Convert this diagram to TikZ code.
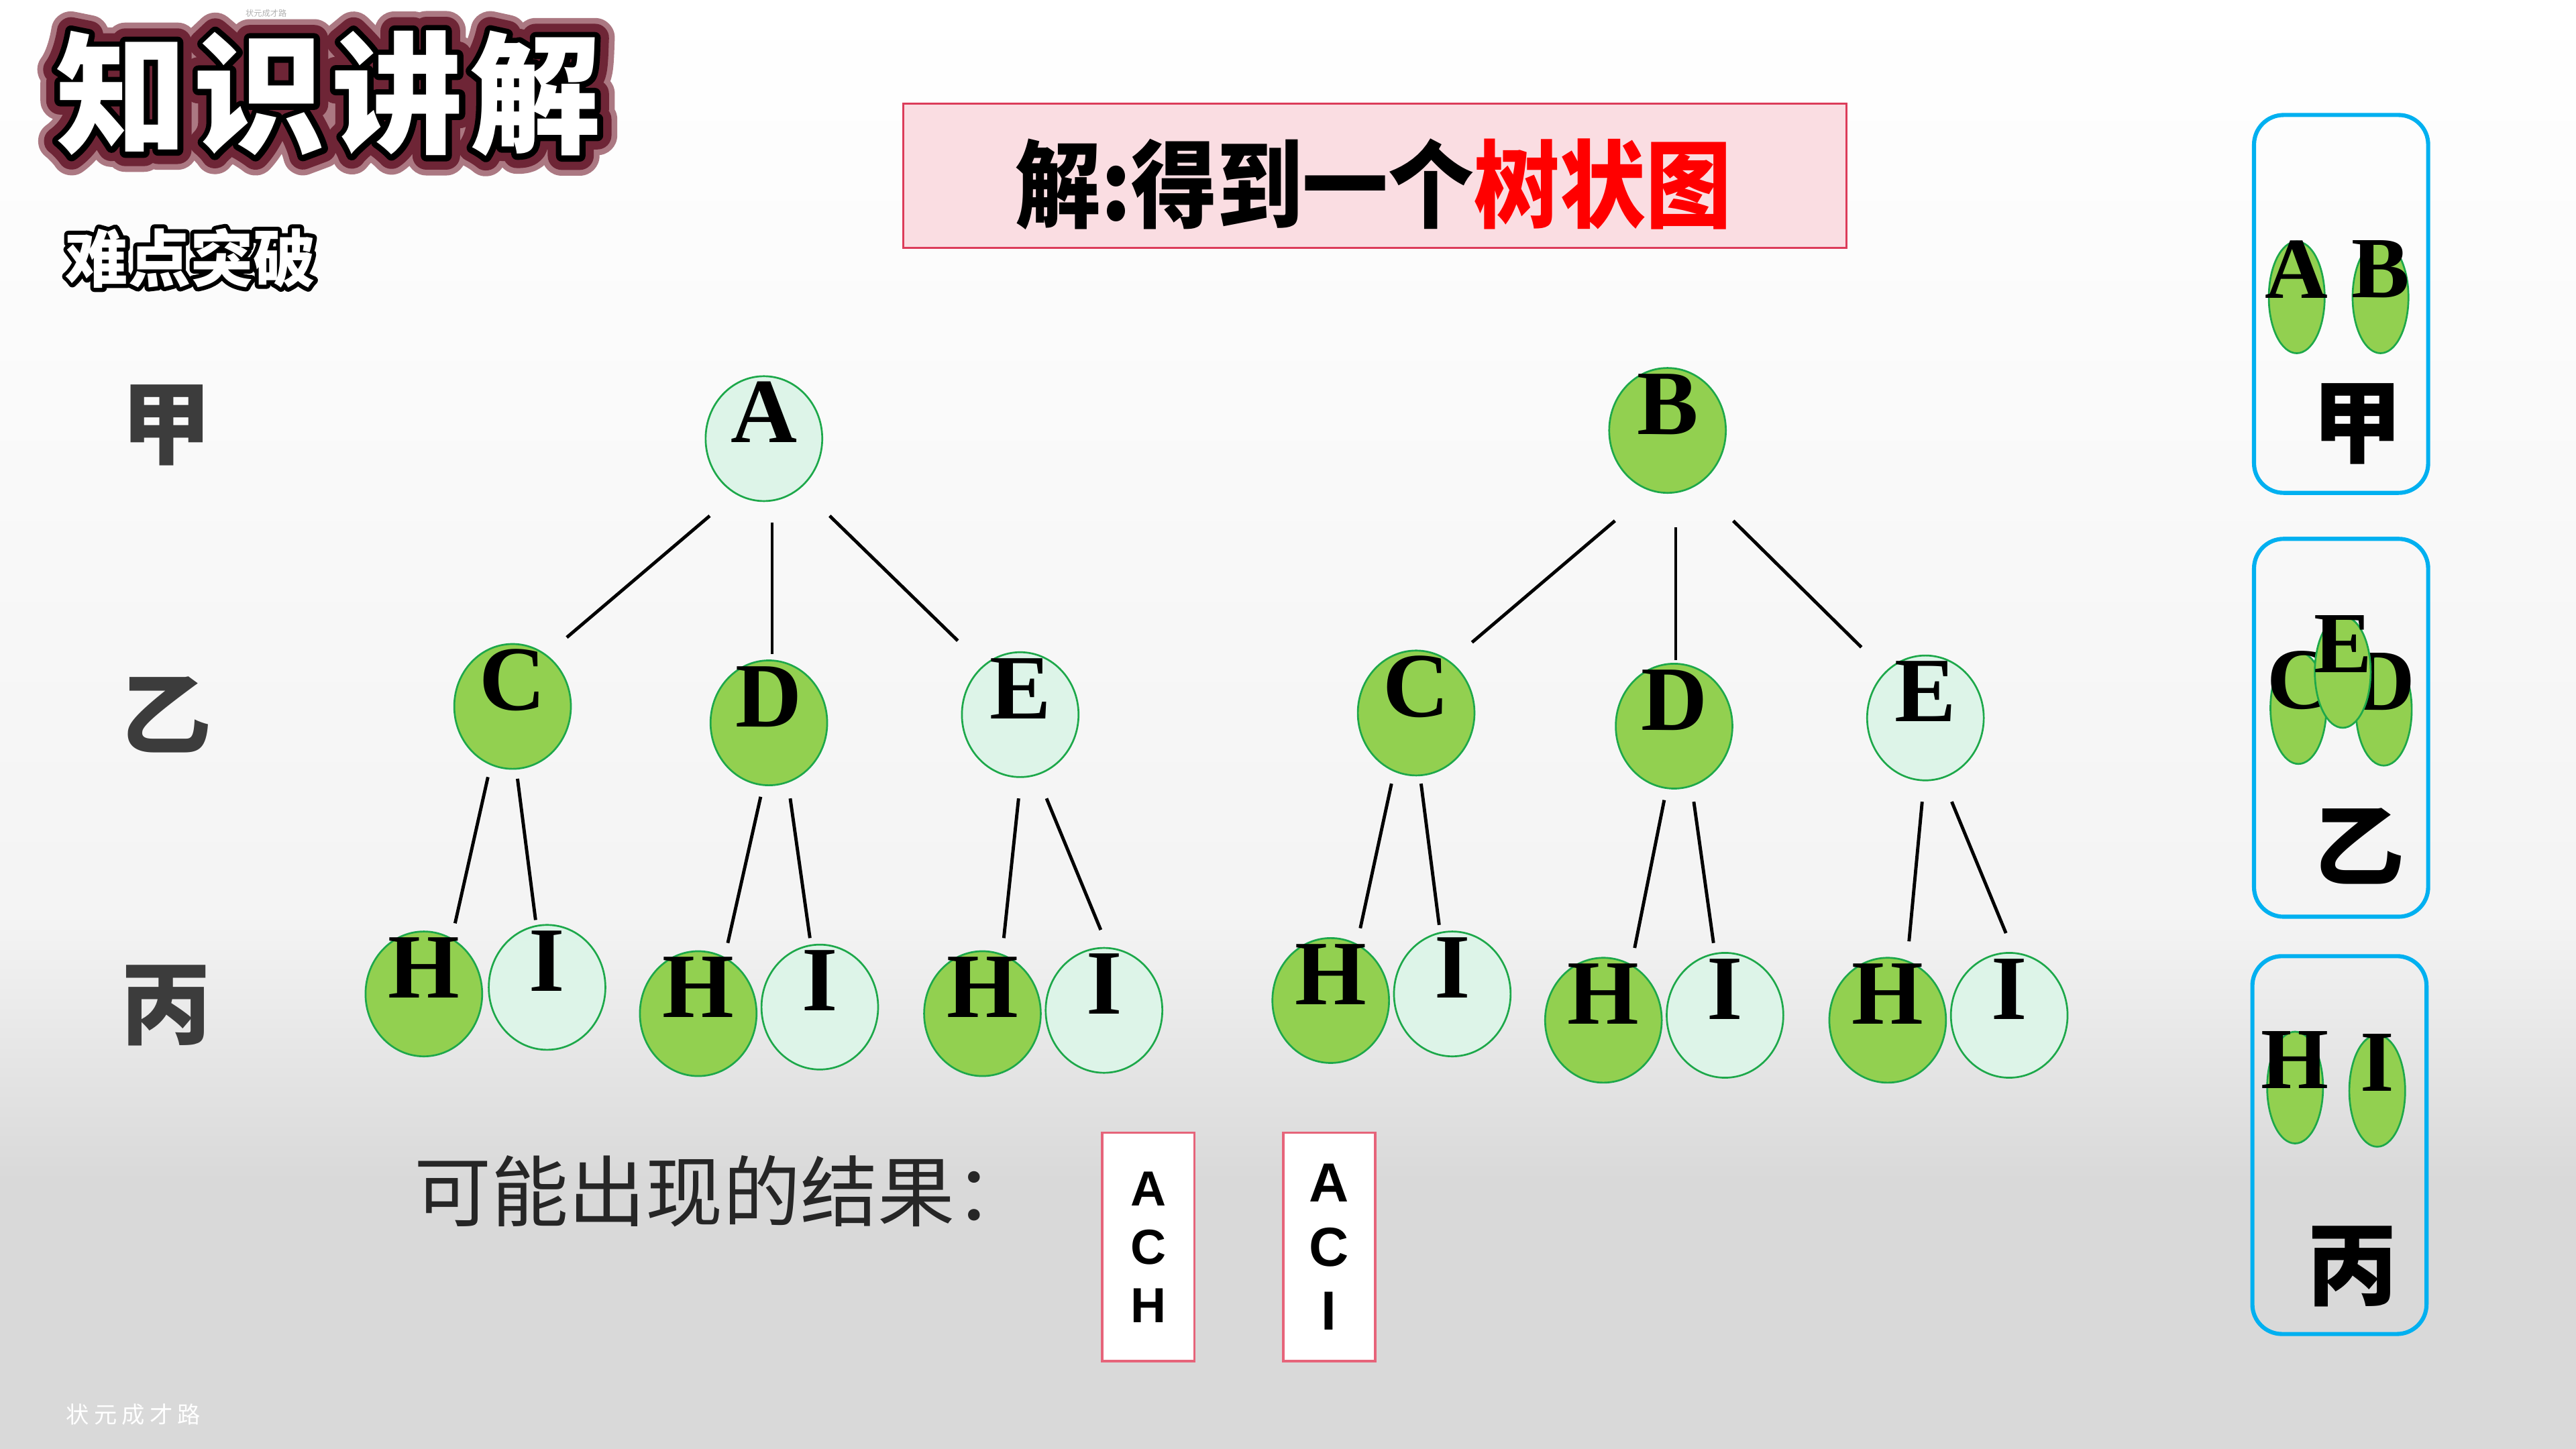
\documentclass[tikz,border=0pt]{standalone}
\usepackage{fontspec}
\setmainfont{Liberation Serif}
\newfontfamily\cjk{Noto Sans CJK SC}
\newfontfamily\arialf{Liberation Sans}
\usetikzlibrary{shapes.geometric,calc}
\definecolor{lgreen}{HTML}{92D050}
\definecolor{mint}{HTML}{DDF4E8}
\definecolor{egreen}{HTML}{1DA84A}
\definecolor{panelblue}{HTML}{00B0F0}
\definecolor{boxpink}{HTML}{FADDE2}
\definecolor{boxred}{HTML}{DC3C5A}
\definecolor{resred}{HTML}{E6647A}
\definecolor{labgray}{HTML}{3C3C3C}
\definecolor{pured}{HTML}{FF0000}
% text drawn with a stroked outline: #1 stroke colour (r g b), #2 stroke width, #3 text
\newcommand\outl[3]{\special{pdf:code q 1 j 1 J #1 RG #2 w 2 Tr}#3\special{pdf:code Q}}
\newcommand\ttltext{知\kern4pt识\kern4pt讲\kern4pt解}
\newcommand\subtext{难点突破}
\newcommand\bub[5]{\node[#1] (#2) at (#3,#4) {}; \node[ltr] (#2t) at ($(#2)+(0,-16)$) {#5};}
\newcommand\sbub[4]{\node[sell] (#1) at (#2,#3) {}; \node[sltr] (#1t) at ($(#1)+(0,-17)$) {#4};}
\begin{document}
\begin{tikzpicture}[x=1pt,y=-1pt,
  ell/.style={ellipse, draw=egreen, line width=1.1pt, inner sep=0pt, minimum width=71pt, minimum height=76pt},
  gbub/.style={ell, fill=lgreen},
  mbub/.style={ell, fill=mint},
  ltr/.style={font=\bfseries\fontsize{56}{60}\selectfont, inner sep=0pt},
  sell/.style={ellipse, draw=egreen, line width=1.1pt, fill=lgreen, inner sep=0pt, minimum width=34pt, minimum height=68pt},
  sltr/.style={font=\bfseries\fontsize{53}{56}\selectfont, inner sep=0pt},
  edge/.style={line width=2pt, black},
  panel/.style={draw=panelblue, line width=2.5pt, rounded corners=18pt, minimum width=106pt, minimum height=230pt, inner sep=0pt},
  cjklab/.style={font=\cjk\bfseries\fontsize{55}{60}\selectfont, text=labgray, inner sep=0pt},
  pancjk/.style={font=\cjk\bfseries\fontsize{55}{60}\selectfont, text=black, inner sep=0pt},
  resbox/.style={draw=resred, line width=1.5pt, fill=white, minimum width=56pt, minimum height=139pt, inner sep=0pt, align=center},
  ttlf/.style={font=\cjk\bfseries\fontsize{80}{84}\selectfont, inner sep=0pt},
  subf/.style={font=\cjk\bfseries\fontsize{38}{42}\selectfont, inner sep=0pt}]
\useasboundingbox (0,0) rectangle (1568,882);
% background
\shade[top color=white, bottom color=gray!9] (0,0) rectangle (1568,560);
\shade[top color=gray!9, bottom color=gray!30] (0,560) rectangle (1568,720);
\fill[gray!30] (0,720) rectangle (1568,882);

% title: soft maroon glow, black outline, white letters
\coordinate (ttlc) at (200,57);
\node[ttlf, text={rgb,255:red,170;green,120;blue,130}] (ttlg) at (ttlc) {\outl{0.67 0.47 0.51}{24}{\ttltext}};
\node[ttlf, text={rgb,255:red,110;green,37;blue,53}] (ttlm) at (ttlc) {\outl{0.43 0.145 0.21}{17}{\ttltext}};
\node[ttlf, text=black] (ttlk) at (ttlc) {\outl{0 0 0}{7}{\ttltext}};
\node[ttlf, text=white] (ttl) at (ttlc) {\ttltext};
\node[font=\cjk\fontsize{5}{6}\selectfont, text=gray!60, inner sep=0pt] (wm1) at (162,8) {状元成才路};

% subtitle: white letters with black outline
\node[subf, text=black] (subk) at (116,157) {\outl{0 0 0}{5}{\subtext}};
\node[subf, text=white] (sub) at (116,157) {\subtext};

% left labels
\node[cjklab] (lj) at (101,259) {甲};
\node[cjklab] (ly) at (101,435) {乙};
\node[cjklab] (lb) at (101,612) {丙};

% title box
\node[draw=boxred, fill=boxpink, line width=1.2pt, minimum width=574pt, minimum height=88pt, inner sep=0pt] (tbox) at (837,107) {};
\node[font=\cjk\bfseries\fontsize{58}{62}\selectfont, xscale=0.9, inner sep=0pt] (ttext) at (836,112) {解:得到一个\textcolor{pured}{树状图}};

% left tree
\bub{mbub}{A}{465}{267}{A}
\bub{gbub}{C1}{312}{430}{C}
\bub{gbub}{D1}{468}{440}{D}
\bub{mbub}{E1}{621}{435}{E}
\bub{gbub}{H11}{258}{605}{H}
\bub{mbub}{I11}{333}{601}{I}
\bub{gbub}{H12}{425}{617}{H}
\bub{mbub}{I12}{499}{613}{I}
\bub{gbub}{H13}{598}{617}{H}
\bub{mbub}{I13}{672}{615}{I}
\draw[edge] ($(A)+(-33,47)$) -- ($(C1)+(33,-42)$);
\draw[edge] ($(A)+(5,51)$) -- ($(D1)+(2,-42)$);
\draw[edge] ($(A)+(40,47)$) -- ($(E1)+(-38,-45)$);
\draw[edge] ($(C1)+(-15,43)$) -- ($(H11)+(19,-43)$);
\draw[edge] ($(C1)+(3,44)$) -- ($(I11)+(-7,-41)$);
\draw[edge] ($(D1)+(-5,45)$) -- ($(H12)+(18,-43)$);
\draw[edge] ($(D1)+(13,46)$) -- ($(I12)+(-6,-42)$);
\draw[edge] ($(E1)+(-1,51)$) -- ($(H13)+(13,-46)$);
\draw[edge] ($(E1)+(16,51)$) -- ($(I13)+(-2,-49)$);

% right tree
\bub{gbub}{B}{1015}{262}{B}
\bub{gbub}{C2}{862}{434}{C}
\bub{gbub}{D2}{1019}{442}{D}
\bub{mbub}{E2}{1172}{437}{E}
\bub{gbub}{H21}{810}{609}{H}
\bub{mbub}{I21}{884}{605}{I}
\bub{gbub}{H22}{976}{621}{H}
\bub{mbub}{I22}{1050}{618}{I}
\bub{gbub}{H23}{1149}{621}{H}
\bub{mbub}{I23}{1223}{618}{I}
\draw[edge] ($(B)+(-32,55)$) -- ($(C2)+(34,-43)$);
\draw[edge] ($(B)+(5,59)$) -- ($(D2)+(1,-40)$);
\draw[edge] ($(B)+(40,55)$) -- ($(E2)+(-39,-43)$);
\draw[edge] ($(C2)+(-15,43)$) -- ($(H21)+(18,-44)$);
\draw[edge] ($(C2)+(3,43)$) -- ($(I21)+(-8,-42)$);
\draw[edge] ($(D2)+(-6,45)$) -- ($(H22)+(19,-44)$);
\draw[edge] ($(D2)+(12,46)$) -- ($(I22)+(-7,-44)$);
\draw[edge] ($(E2)+(-2,51)$) -- ($(H23)+(13,-48)$);
\draw[edge] ($(E2)+(16,51)$) -- ($(I23)+(-2,-50)$);

% results
\node[font=\cjk\fontsize{47}{50}\selectfont, text=black!85, anchor=west, inner sep=0pt] (res) at (252,725) {可能出现的结果：};
\node[resbox, font=\arialf\bfseries\fontsize{30}{35.5}\selectfont] (r1) at (699,759) {A\\C\\H};
\node[resbox, font=\arialf\bfseries\fontsize{33.5}{39}\selectfont] (r2) at (809,759) {A\\C\\I};

% right panels
\node[panel] (p1) at (1425,185) {};
\node[panel] (p2) at (1425,443) {};
\node[panel] (p3) at (1424,697) {};
\sbub{pA}{1398}{181}{A}
\sbub{pB}{1449}{181}{B}
\node[pancjk] (pj) at (1435,258) {甲};
\sbub{pC}{1399}{431}{C}
\sbub{pD}{1451}{432}{D}
\sbub{pE}{1426}{409}{E}
\node[pancjk] (py) at (1436,515) {乙};
\sbub{pH}{1397}{662}{H}
\sbub{pI}{1447}{664}{I}
\node[pancjk] (pb) at (1432,771) {丙};

% watermark
\node[font=\cjk\fontsize{14}{16}\selectfont, text=white, anchor=west, inner sep=0pt] (wm2) at (40,861) {状\kern3pt元\kern3pt成\kern3pt才\kern3pt路};
\end{tikzpicture}
\end{document}
